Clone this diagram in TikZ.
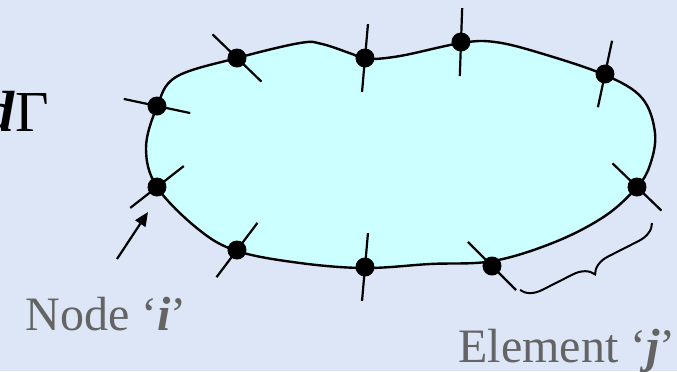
\documentclass[tikz,border=0pt]{standalone}
\usepackage{fontspec}
\setmainfont{Liberation Serif}
\usetikzlibrary{positioning,arrows.meta,calc,decorations.pathreplacing}
\definecolor{paper}{RGB}{220,230,246}
\definecolor{domain}{RGB}{204,255,255}
\definecolor{labelgray}{RGB}{100,100,100}

\begin{document}
\begin{tikzpicture}[
  x=0.5pt, y=-0.5pt,
  dot/.style={circle, fill=black, minimum size=9.5pt, inner sep=0pt},
  tickline/.style={line width=1.1pt, black},
  outline/.style={line width=1.2pt, black, fill=domain},
  label/.style={font=\fontsize{24}{26}\selectfont, text=labelgray, inner sep=0pt},
  arrow/.style={-{Triangle[length=7pt, width=6pt]}, line width=1.1pt},
]
% background and frame of the page
\fill[paper] (0,0) rectangle (677,371);
\useasboundingbox (0,0) rectangle (677,371);

% boundary of the domain
\draw[outline] plot[smooth cycle, tension=0.6] coordinates {
  (157,107) (176,77) (237,58) (300,43) (322,44) (352,54) (366,59)
  (400,56) (461,43) (495,42) (540,53) (605,75) (642,98) (655,133)
  (650,165) (637,187) (605,216) (555,242) (493,261) (430,264)
  (365,268) (300,263) (237,251) (198,229) (157,187) (146,148)};

% nodes on the boundary
\foreach \n/\x/\y in {n1/237/58, n2/157/106, n3/365/58, n4/461/42, n5/605/74,
                      n6/637/187, n7/492/266, n8/365/267, n9/237/250, n10/157/187}
  { \node[dot] (\n) at (\x,\y) {}; }

% element end ticks
\foreach \n/\a in {n1/44, n2/12, n3/95, n4/92, n5/102, n6/44, n7/45, n8/95, n9/127, n10/142}
  { \draw[tickline] ($(\n)+(\a:34)$) -- ($(\n)+(\a+180:34)$); }

\node[font=\fontsize{29}{31}\selectfont, anchor=base east, inner sep=0pt] (dgamma)
  at (49,131) {\textbf{\textit{d}}Γ};

\node[label, anchor=base west] (nodelabel) at (25,330) {Node ‘\textbf{\textit{i}}’};
\node[label, anchor=base west] (elemlabel) at (458,362) {Element ‘\textbf{\textit{j}}’};

\coordinate (arrowtail) at (117,259);
\coordinate (arrowtip) at (148,212);
\draw[arrow] (arrowtail) -- (arrowtip);

\coordinate (bracetop) at (652,223);
\coordinate (bracebot) at (520,290);
\draw[line width=1pt, decorate, decoration={brace, amplitude=10pt}] (bracetop) -- (bracebot);
\end{tikzpicture}
\end{document}
